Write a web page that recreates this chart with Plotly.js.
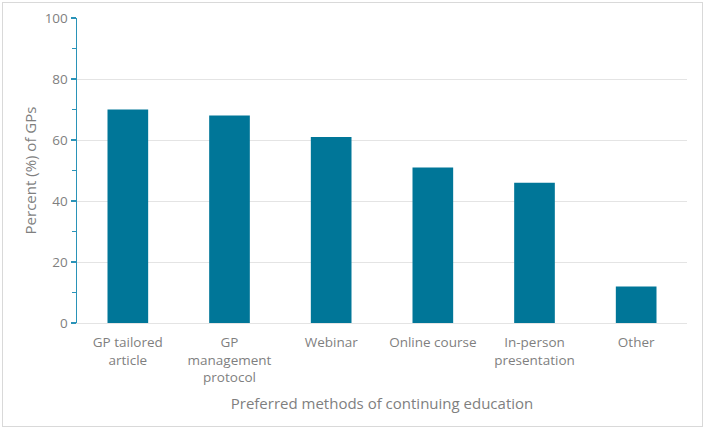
<!DOCTYPE html>
<html>
<head>
<meta charset="utf-8">
<script src="https://cdn.plot.ly/plotly-3.0.1.min.js"></script>
<style>
html,body{margin:0;padding:0;background:#fff;}
#chart{width:705px;height:429px;}
#frame{position:absolute;left:2px;top:2px;width:699px;height:423px;border:1px solid #d9d9d9;pointer-events:none;}
</style>
</head>
<body>
<div id="chart"></div>
<div id="frame"></div>
<script>
const categories = ["GP tailored<br>article", "GP<br>management<br>protocol", "Webinar", "Online course", "In-person<br>presentation", "Other"];
const percentValues = [70, 68, 61, 51, 46, 12];
const yTickValues = [0, 20, 40, 60, 80, 100];

const trace = {
  type: 'bar',
  x: categories,
  y: percentValues,
  marker: {color: '#007698'},
  hoverinfo: 'x+y'
};

const layout = {
  width: 705,
  height: 429,
  margin: {l: 77, r: 18, t: 18, b: 106},
  paper_bgcolor: '#ffffff',
  plot_bgcolor: '#ffffff',
  bargap: 0.6,
  showlegend: false,
  font: {family: 'Open Sans, sans-serif', color: '#7f7f7f', size: 13.5},
  xaxis: {
    type: 'category',
    showline: true,
    linecolor: '#e4e4e4',
    linewidth: 1,
    showgrid: false,
    ticks: '',
    ticklabelstandoff: 7,
    tickfont: {size: 13.5, color: '#7f7f7f'},
    title: {text: 'Preferred methods of continuing education', font: {size: 15, color: '#7f7f7f'}, standoff: 13},
    automargin: false
  },
  yaxis: {
    range: [0, 100],
    tickvals: yTickValues,
    showline: true,
    linecolor: '#2a93b8',
    linewidth: 1.5,
    ticks: 'outside',
    ticklen: 5,
    tickcolor: '#2a93b8',
    tickwidth: 1.5,
    minor: {dtick: 10, tick0: 0, ticks: 'outside', ticklen: 4, tickcolor: '#2a93b8', tickwidth: 1.5, showgrid: false},
    gridcolor: '#e4e4e4',
    gridwidth: 1,
    zeroline: false,
    tickfont: {size: 13.5, color: '#7f7f7f'},
    title: {text: 'Percent (%) of GPs', font: {size: 15, color: '#7f7f7f'}, standoff: 4},
    automargin: false
  }
};

Plotly.newPlot('chart', [trace], layout, {displayModeBar: false, staticPlot: true});
</script>
</body>
</html>
